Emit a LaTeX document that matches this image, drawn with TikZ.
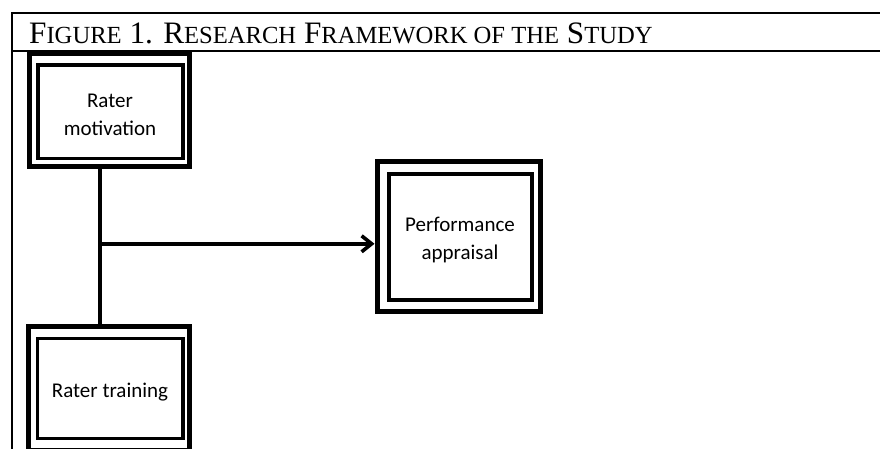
\documentclass[tikz,border=0pt]{standalone}
\usepackage{fontspec}
\setmainfont{Liberation Serif}
\newfontfamily\boxfont{Carlito}
\usetikzlibrary{arrows.meta}
\newcommand\smc[1]{{\fontsize{24.6pt}{24.6pt}\selectfont #1}}
\begin{document}
\begin{tikzpicture}[x=1pt,y=-1pt,
  frame/.style={line width=2pt, line join=miter},
  outerbox/.style={draw, line width=5pt, inner sep=0pt, outer sep=0pt},
  innerbox/.style={line width=3.3pt},
  boxtext/.style={font=\boxfont\fontsize{21pt}{28pt}\selectfont, align=center, inner sep=0pt},
  conn/.style={line width=4pt},
  arr/.style={line width=3.6pt, -{Straight Barb[length=10pt,width=16pt]}, shorten >=2.5pt}
]
\useasboundingbox (0,0) rectangle (880,449);
% table frame
\draw[frame] (881,13) -- (12,13) -- (12,450);
\draw[frame] (12,51) -- (881,51);
\node[anchor=base west, inner sep=0pt, font=\fontsize{31.2pt}{31.2pt}\selectfont] (title) at (29,44)
  {F\smc{IGURE} 1. R\smc{ESEARCH} F\smc{RAMEWORK OF THE} S\smc{TUDY}};
% boxes
\node[outerbox, minimum width=160.5pt, minimum height=113.5pt] (mot) at (109.25,110.25) {};
\draw[innerbox] ([shift={(9,11.5)}]mot.north west) rectangle ([shift={(-6.5,-8.5)}]mot.south east);
\node[boxtext] (motT) at (110,115) {Rater\\motivation};

\node[outerbox, minimum width=160.8pt, minimum height=124pt] (trn) at (109.1,388) {};
\draw[innerbox] ([shift={(9,12.3)}]trn.north west) rectangle ([shift={(-6.5,-11.7)}]trn.south east);
\node[boxtext] (trnT) at (110,392.5) {Rater training};

\node[outerbox, minimum width=163pt, minimum height=149.5pt] (app) at (458.5,236.75) {};
\draw[innerbox] ([shift={(12,12)}]app.north west) rectangle ([shift={(-8,-11.5)}]app.south east);
\node[boxtext] (appT) at (460,240) {Performance\\appraisal};
% connectors
\coordinate (j) at (100,243.8);
\draw[conn] (mot.south -| j) -- (trn.north -| j);
\draw[arr] ([xshift=-2pt]j) -- (app.west |- j);
\end{tikzpicture}
\end{document}
